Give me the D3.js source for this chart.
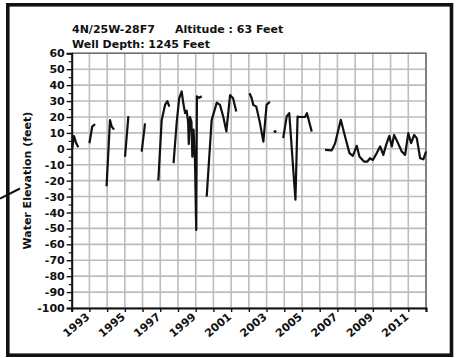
<!DOCTYPE html>
<html>
<head>
<meta charset="utf-8">
<script src="https://cdn.jsdelivr.net/npm/d3@7"></script>
<style>
  html, body { margin: 0; padding: 0; background: #fff; }
  svg { display: block; }
  text { font-family: "DejaVu Sans", sans-serif; font-weight: bold; fill: #111; }
</style>
</head>
<body>
<svg id="chart" width="462" height="358"></svg>
<script>
// Well 4N/25W-28F7 water-level record; null marks a gap between measurement runs
const dates = [
  1992.03, 1992.13, 1992.24, 1992.37, null,
  1993.00, 1993.16, 1993.32, null,
  1993.97, 1994.16, 1994.26, 1994.39, null,
  1995.01, 1995.20, null,
  1995.95, 1996.14, null,
  1996.89, 1997.08, 1997.27, 1997.40, 1997.51, null,
  1997.75, 1997.93, 1998.07, 1998.21, 1998.30, 1998.40, 1998.49, 1998.57, 1998.61,
  1998.68, 1998.76, 1998.81, 1998.88, 1998.96, 1999.03, 1999.07, 1999.20, 1999.34, null,
  1999.62, 1999.90, 2000.19, 2000.37, 2000.56, 2000.73, 2000.94, 2001.11, 2001.29, null,
  2002.04, 2002.16, 2002.25, 2002.42, 2002.63, 2002.82, 2003.00, 2003.19, null,
  2003.48, null,
  2003.94, 2004.14, 2004.28, 2004.63, 2004.75, 2004.89, 2005.17, 2005.28, 2005.55, null,
  2006.30, 2006.68, 2006.87, 2007.19, 2007.43, 2007.68, 2007.87, 2008.09, 2008.24,
  2008.50, 2008.69, 2008.84, 2009.00, 2009.22, 2009.41, 2009.59, 2009.75, 2009.93,
  2010.07, 2010.20, 2010.38, 2010.63, 2010.82, 2011.00, 2011.16, 2011.33, 2011.48,
  2011.67, 2011.85, 2012.00
];
const waterLevel = [
  0, 8, 4, 1, null,
  3.5, 14, 15.5, null,
  -23.5, 18, 14, 12, null,
  -5, 20.5, null,
  -1.7, 16, null,
  -20, 18, 27.6, 30, 26.5, null,
  -9, 17, 31.8, 36, 28.6, 22.4, 24, 17, 3,
  20, 17, -5, 12, -8, -51, 33, 32, 33, null,
  -30, 18, 29, 27.6, 20, 11, 33.8, 31.8, 23.4, null,
  34.9, 31.8, 27.6, 26.5, 16, 4.5, 27.6, 29.6, null,
  10.8, null,
  6.7, 20.5, 22.4, -32, 20.2, 20, 20, 22.4, 10.8, null,
  -0.7, -1, 3.5, 18.2, 7.7, -2.7, -4.4, 1.9, -4.8,
  -8, -8, -5.9, -7, -2.7, 1.5, -3.8, 2.5, 8.1,
  1.5, 8.7, 4.5, -1.7, -3.8, 9.8, 3.5, 8.7, 6.7,
  -5.9, -6.6, -1.7
];
const yTickValues = d3.range(-100, 61, 10);
const xTickYears = d3.range(1992, 2013, 1);
const xLabelYears = [1993, 1995, 1997, 1999, 2001, 2003, 2005, 2007, 2009, 2011];
const titleLine1 = "4N/25W-28F7";
const titleAltitude = "Altitude : 63 Feet";
const titleLine2 = "Well Depth: 1245 Feet";
const yAxisTitle = "Water Elevation (feet)";

const svg = d3.select("#chart");
const plot = { left: 71.7, right: 426, top: 53.3, bottom: 308 };

const x = d3.scaleLinear().domain([1992, 2012]).range([plot.left, plot.right]);
const y = d3.scaleLinear().domain([-100, 60]).range([plot.bottom, plot.top]);

// outer frame
svg.append("rect")
  .attr("x", 7.8).attr("y", 4.8)
  .attr("width", 443.7).attr("height", 350.4)
  .attr("fill", "none").attr("stroke", "#111").attr("stroke-width", 3.6);

// leader line entering the frame on the left
svg.append("line")
  .attr("x1", 0).attr("y1", 198.5).attr("x2", 20).attr("y2", 188.5)
  .attr("stroke", "#111").attr("stroke-width", 2);

// grid
const grid = svg.append("g");
grid.selectAll("line.v").data(xTickYears).join("line")
  .attr("x1", d => x(d)).attr("x2", d => x(d))
  .attr("y1", plot.top).attr("y2", plot.bottom)
  .attr("stroke", "#bdbdbd").attr("stroke-width", 1.6);
grid.selectAll("line.h").data(yTickValues).join("line")
  .attr("x1", plot.left).attr("x2", plot.right)
  .attr("y1", d => y(d)).attr("y2", d => y(d))
  .attr("stroke", "#bdbdbd").attr("stroke-width", 1.6);

// plot border (top/right)
svg.append("path")
  .attr("d", `M${plot.left},${plot.top}H${plot.right}V${plot.bottom}`)
  .attr("fill", "none").attr("stroke", "#6e6e6e").attr("stroke-width", 1.6);

// y axis (plain hyphen for negative labels)
const yAxis = d3.axisLeft(y).tickValues(yTickValues).tickSize(5).tickPadding(2)
  .tickFormat(d => String(d));
const gy = svg.append("g").attr("transform", `translate(${plot.left},0)`).call(yAxis);
gy.select(".domain").attr("stroke", "#111").attr("stroke-width", 2);
gy.selectAll(".tick line").attr("stroke", "#111").attr("stroke-width", 1.4);
gy.selectAll(".tick text").attr("font-size", 11).attr("fill", "#111")
  .attr("font-family", "DejaVu Sans").attr("font-weight", "bold");
// minor ticks at the fives
const yMinor = d3.axisLeft(y).tickValues(d3.range(-95, 60, 10)).tickSize(3).tickFormat("");
const gym = svg.append("g").attr("transform", `translate(${plot.left},0)`).call(yMinor);
gym.select(".domain").remove();
gym.selectAll(".tick line").attr("stroke", "#111").attr("stroke-width", 1.2);

// x axis
const xAxis = d3.axisBottom(x).tickValues(xTickYears).tickSize(4).tickFormat("");
const gx = svg.append("g").attr("transform", `translate(0,${plot.bottom})`).call(xAxis);
gx.select(".domain").attr("stroke", "#111").attr("stroke-width", 2);
gx.selectAll(".tick line").attr("stroke", "#111").attr("stroke-width", 1.4);

svg.append("g").selectAll("text").data(xLabelYears).join("text")
  .attr("transform", d => `translate(${x(d) + 1},${plot.bottom + 10}) rotate(-40)`)
  .attr("text-anchor", "end")
  .attr("font-size", 11)
  .text(d => d);

// titles
svg.append("text").attr("x", 72).attr("y", 33.3).attr("font-size", 11).text(titleLine1);
svg.append("text").attr("x", 175).attr("y", 33.3).attr("font-size", 11).text(titleAltitude);
svg.append("text").attr("x", 72).attr("y", 47.8).attr("font-size", 11).text(titleLine2);

svg.append("text")
  .attr("transform", `translate(31,${(plot.top + plot.bottom) / 2}) rotate(-90)`)
  .attr("text-anchor", "middle")
  .attr("font-size", 11)
  .text(yAxisTitle);

// water level series
const pts = dates.map((d, i) => ({ t: d, v: waterLevel[i] }));
const line = d3.line()
  .defined(p => p.t !== null && p.v !== null)
  .x(p => x(p.t)).y(p => y(p.v));
svg.append("path")
  .datum(pts)
  .attr("d", line)
  .attr("fill", "none")
  .attr("stroke", "#111")
  .attr("stroke-width", 2.2)
  .attr("stroke-linejoin", "round");

// isolated single readings shown as dots
const isolated = pts.filter((p, i) => p.v !== null &&
  (i === 0 || pts[i - 1].v === null) && (i === pts.length - 1 || pts[i + 1].v === null));
svg.append("g").selectAll("circle").data(isolated).join("circle")
  .attr("cx", p => x(p.t)).attr("cy", p => y(p.v)).attr("r", 1.5)
  .attr("fill", "#111");
</script>
</body>
</html>
